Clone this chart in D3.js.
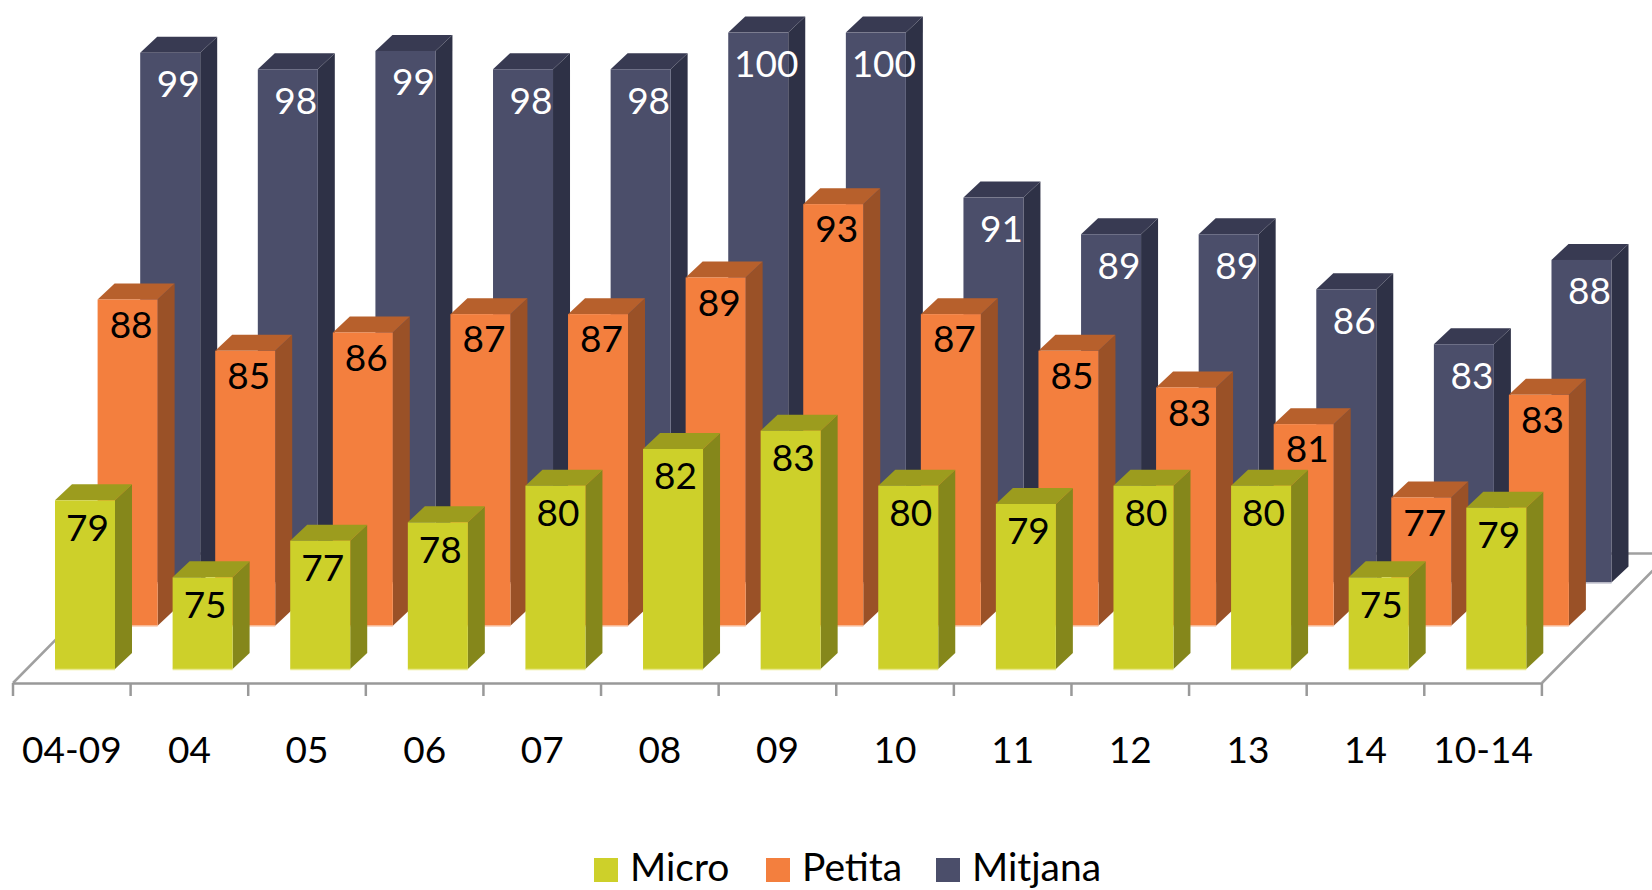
<!DOCTYPE html>
<html>
<head>
<meta charset="utf-8">
<script src="https://cdn.jsdelivr.net/npm/d3@7"></script>
<style>
  body { margin: 0; background: #fff; }
  text { font-family: Lato, "Noto Sans", sans-serif; font-size: 37px; }
</style>
</head>
<body>
<div id="chart"></div>
<script>
// Values, labels show them rounded
var categories = ["04-09", "04", "05", "06", "07", "08", "09", "10", "11", "12", "13", "14", "10-14"];
var micro = [79.2, 75, 77, 78, 80, 82, 83, 80, 79, 80, 80, 75, 78.8];
var petita = [87.8, 85, 86, 87, 87, 89, 93, 87, 85, 83, 81, 77, 82.6];
var mitjana = [98.9, 98, 99, 98, 98, 100, 100, 91, 89, 89, 86, 83, 87.6];
var seriesNames = ["Micro", "Petita", "Mitjana"];

var width = 1652,
    height = 890,
    barWidth = 60,
    axisY = 683,
    // every row goes this far back on the floor
    rowDx = 42.6,
    rowDy = 43.2,
    // extrusion of one bar
    depthX = 17,
    depthY = 16;

var series = [
  {name: seriesNames[0], values: micro, row: 0, front: "#cdd02a", top: "#9c9c1e", side: "#85871b", base: "#e9e98f", label: "#000", labelDx: 2.5, labelDy: 27},
  {name: seriesNames[1], values: petita, row: 1, front: "#f37f3e", top: "#b7602c", side: "#9a5127", base: "#fbd8c4", label: "#000", labelDx: 3.5, labelDy: 25},
  {name: seriesNames[2], values: mitjana, row: 2, front: "#4b4e6a", top: "#383a52", side: "#2e3146", base: "#c4c5d0", label: "#fff", labelDx: 8, labelDy: 31}
];

var x = d3.scaleBand()
    .domain(categories)
    .range([13, 1541.9]);

// bar height in px, the value axis starts at 70
var barHeight = d3.scaleLinear()
    .domain([70, 100])
    .range([0, 550]);

var svg = d3.select("#chart").append("svg")
    .attr("width", width)
    .attr("height", height);

// Floor outline
var floorDx = rowDx * 3,
    floorDy = rowDy * 3;

svg.append("path")
    .attr("d", "M" + x.range()[0] + "," + axisY +
      "L" + (x.range()[0] + floorDx) + "," + (axisY - floorDy) +
      "L" + (x.range()[1] + floorDx) + "," + (axisY - floorDy) +
      "L" + x.range()[1] + "," + axisY)
    .attr("fill", "none")
    .attr("stroke", "#a0a0a0")
    .attr("stroke-width", 2.5);

// Category axis: labels from d3, ticks go on the band limits
var axis = svg.append("g")
    .attr("transform", "translate(0," + axisY + ")")
    .call(d3.axisBottom(x).tickSize(0).tickPadding(54));

axis.select(".domain")
    .attr("stroke", "#999")
    .attr("stroke-width", 2.5);

axis.selectAll("text")
    .attr("fill", "#000")
    .style("font-size", "37px")
    .attr("font-family", null);

axis.selectAll("line.limit")
    .data(categories.concat(null))
    .enter()
    .append("line")
    .attr("class", "limit")
    .attr("x1", function(d, i) { return x.range()[0] + i * x.step() })
    .attr("x2", function(d, i) { return x.range()[0] + i * x.step() })
    .attr("y1", 0)
    .attr("y2", 13)
    .attr("stroke", "#999")
    .attr("stroke-width", 2.5);

// Bars, back row first so the front rows cover it
var rows = series.slice().reverse();

rows.forEach(function(s) {
  var baseY = 669 - s.row * rowDy,
      offsetX = 42 + s.row * rowDx;

  var bars = svg.append("g")
      .attr("class", "serie " + s.name)
      .selectAll("g")
      .data(s.values)
      .enter()
      .append("g")
      .attr("transform", function(d, i) { return "translate(" + (x(categories[i]) + offsetX) + "," + baseY + ")" });

  // side face
  bars.append("path")
      .attr("d", function(d) {
        var h = barHeight(d);
        return "M" + barWidth + ",0L" + (barWidth + depthX) + "," + (-depthY) +
          "L" + (barWidth + depthX) + "," + (-h - depthY) + "L" + barWidth + "," + (-h) + "Z";
      })
      .attr("fill", s.side);

  // top face
  bars.append("path")
      .attr("d", function(d) {
        var h = barHeight(d);
        return "M0," + (-h) + "L" + depthX + "," + (-h - depthY) +
          "L" + (barWidth + depthX) + "," + (-h - depthY) + "L" + barWidth + "," + (-h) + "Z";
      })
      .attr("fill", s.top);

  // front face
  bars.append("rect")
      .attr("x", 0)
      .attr("y", function(d) { return -barHeight(d) })
      .attr("width", barWidth)
      .attr("height", function(d) { return barHeight(d) })
      .attr("fill", s.front);

  // pale line under the front face
  bars.append("line")
      .attr("x1", 0)
      .attr("x2", barWidth)
      .attr("y1", 0.5)
      .attr("y2", 0.5)
      .attr("stroke", s.base)
      .attr("stroke-width", 1.5);

  bars.append("text")
      .attr("x", barWidth / 2 + s.labelDx)
      .attr("y", function(d) { return -barHeight(d) + s.labelDy })
      .attr("dy", "0.36em")
      .attr("text-anchor", "middle")
      .attr("fill", s.label)
      .text(function(d) { return d3.format(".0f")(d) });
});

// Legend
var legendX = d3.scaleOrdinal()
    .domain(seriesNames)
    .range([594, 766, 936]);

var legend = svg.append("g")
    .selectAll("g")
    .data(series)
    .enter()
    .append("g")
    .attr("transform", function(d) { return "translate(" + legendX(d.name) + ",858)" });

legend.append("rect")
    .attr("width", 24)
    .attr("height", 24)
    .attr("fill", function(d) { return d.front });

legend.append("text")
    .attr("x", 36)
    .attr("y", 23)
    .attr("fill", "#000")
    .style("font-size", "39px")
    .text(function(d) { return d.name });
</script>
</body>
</html>
